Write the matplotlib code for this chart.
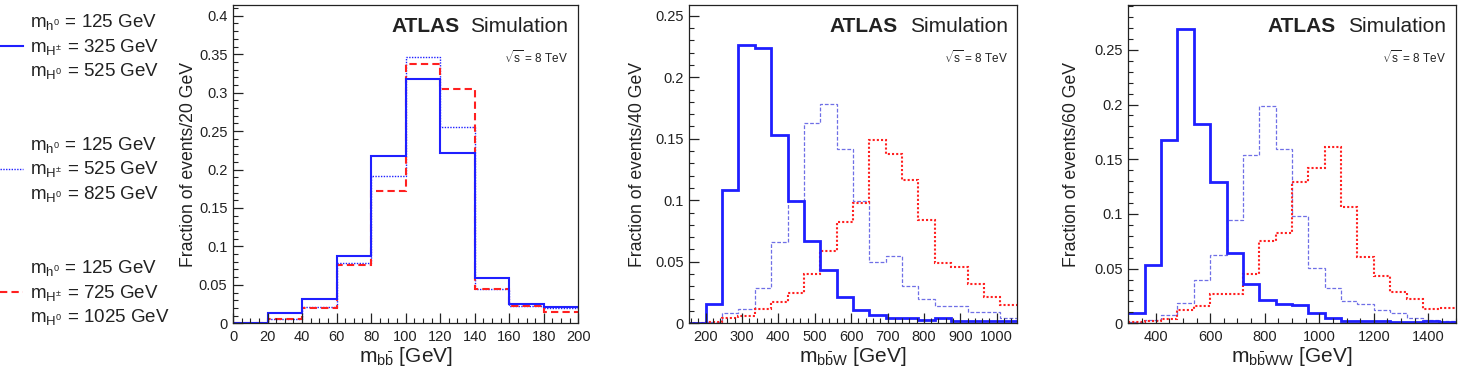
import matplotlib
matplotlib.use("Agg")
import matplotlib.pyplot as plt
from matplotlib.lines import Line2D
from matplotlib.ticker import MultipleLocator, FuncFormatter
import numpy as np

plt.rcParams['font.family'] = ['Liberation Sans', 'DejaVu Sans']
plt.rcParams['mathtext.fontset'] = 'custom'
plt.rcParams['mathtext.rm'] = 'Liberation Sans'
plt.rcParams['mathtext.it'] = 'Liberation Sans'
plt.rcParams['mathtext.bf'] = 'Liberation Sans:bold'
plt.rcParams['mathtext.sf'] = 'Liberation Sans'

# ---------------- data ----------------
# panel 1: m_bb, 20 GeV bins from 0 to 200
edges_bb = np.arange(0, 201, 20)
bb_325 = [0.0, 0.013, 0.032, 0.088, 0.218, 0.318, 0.221, 0.059, 0.025, 0.021]
bb_525 = [0.0, 0.006, 0.021, 0.078, 0.191, 0.347, 0.255, 0.045, 0.023, 0.020]
bb_725 = [0.0, 0.006, 0.020, 0.076, 0.172, 0.337, 0.305, 0.045, 0.022, 0.015]

# panel 2: m_bbW, bins from 155 to 1055
edges_bbw = np.arange(155, 1056, 45)
bbw_325 = [0.0005, 0.016, 0.108, 0.226, 0.224, 0.153, 0.099, 0.067, 0.043, 0.021,
           0.011, 0.007, 0.0045, 0.004, 0.003, 0.004, 0.002, 0.002, 0.002, 0.002]
bbw_525 = [0.0, 0.001, 0.008, 0.012, 0.029, 0.066, 0.099, 0.1625, 0.178, 0.142,
           0.099, 0.050, 0.055, 0.030, 0.020, 0.014, 0.014, 0.009, 0.009, 0.004]
bbw_725 = [0.0, 0.001, 0.004, 0.006, 0.012, 0.0176, 0.0244, 0.040, 0.059, 0.082,
           0.098, 0.149, 0.138, 0.1165, 0.084, 0.049, 0.046, 0.032, 0.021, 0.015]

# panel 3: m_bbWW, 60 GeV bins from 300 to 1500
edges_bbww = np.arange(300, 1501, 60)
bbww_325 = [0.009, 0.053, 0.168, 0.269, 0.182, 0.129, 0.064, 0.036, 0.021, 0.018,
            0.017, 0.009, 0.0046, 0.002, 0.002, 0.002, 0.001, 0.001, 0.002, 0.001]
bbww_525 = [0.001, 0.003, 0.0076, 0.019, 0.040, 0.0625, 0.094, 0.154, 0.199, 0.159,
            0.098, 0.051, 0.032, 0.020, 0.018, 0.012, 0.009, 0.005, 0.003, 0.002]
bbww_725 = [0.001, 0.002, 0.004, 0.012, 0.016, 0.027, 0.027, 0.045, 0.0756, 0.083,
            0.129, 0.142, 0.161, 0.106, 0.061, 0.043, 0.029, 0.022, 0.013, 0.014]

legend_groups = [
    ["$m_{h^0}$ = 125 GeV", "$m_{H^{\\pm}}$ = 325 GeV", "$m_{H^0}$ = 525 GeV"],
    ["$m_{h^0}$ = 125 GeV", "$m_{H^{\\pm}}$ = 525 GeV", "$m_{H^0}$ = 825 GeV"],
    ["$m_{h^0}$ = 125 GeV", "$m_{H^{\\pm}}$ = 725 GeV", "$m_{H^0}$ = 1025 GeV"],
]

# ---------------- figure ----------------
W, H = 1458, 374
fig = plt.figure(figsize=(W / 100, H / 100), dpi=100)

BLUE = '#1f1fff'
LBLUE = '#6f6fe6'
RED = '#ff2020'

def px_axes(l, r, t, b):
    return fig.add_axes([l / W, 1 - b / H, (r - l) / W, (b - t) / H])

fmt = FuncFormatter(lambda v, p: f"{v:g}")

def style(ax, xlim, ylim, xmaj, xmin, xlabel, ylabel, ylx, atlas_l, sim_r):
    ax.set_xlim(*xlim)
    ax.set_ylim(*ylim)
    ax.xaxis.set_major_locator(MultipleLocator(xmaj))
    ax.xaxis.set_minor_locator(MultipleLocator(xmin))
    ax.yaxis.set_major_locator(MultipleLocator(0.05))
    ax.yaxis.set_minor_locator(MultipleLocator(0.01))
    ax.yaxis.set_major_formatter(fmt)
    ax.xaxis.set_major_formatter(fmt)
    ax.tick_params(which='both', direction='in', top=False, right=False,
                   labelsize=10.5, colors='#222222')
    ax.tick_params(which='major', length=7, width=0.9)
    ax.tick_params(which='minor', length=3.5, width=0.8)
    ax.tick_params(axis='x', pad=5)
    ax.tick_params(axis='y', pad=4)
    for s in ax.spines.values():
        s.set_linewidth(0.9)
        s.set_color('#222222')
    ax.set_xlabel(xlabel, fontsize=15, va='baseline', color='#222222')
    ax.xaxis.set_label_coords(0.5, -0.122)
    ax.set_ylabel(ylabel, fontsize=12.7, va='center', color='#222222')
    ax.yaxis.set_label_coords(ylx, 0.5)
    ax.text(atlas_l, 0.916, 'ATLAS', transform=ax.transAxes, fontsize=15,
            fontweight='bold', ha='left', va='baseline', color='#222222')
    ax.text(sim_r, 0.916, 'Simulation', transform=ax.transAxes, fontsize=15,
            ha='right', va='baseline', color='#222222')
    ax.text(sim_r, 0.835, '$\\sqrt{s}$ = 8 TeV', transform=ax.transAxes,
            fontsize=8.5, ha='right', va='center', color='#222222')

# panel 1
ax1 = px_axes(233, 578.3, 5, 323.3)
ax1.stairs(bb_525, edges_bb, baseline=None, color=BLUE, lw=1.0, ls=(0, (1, 1)))
ax1.stairs(bb_725, edges_bb, baseline=None, color=RED, lw=1.5, ls=(0, (3.5, 2)))
ax1.stairs(bb_325, edges_bb, baseline=None, color=BLUE, lw=1.5)
style(ax1, (0, 200), (0, 0.414), 20, 5, '$m_{b\\bar{b}}$ [GeV]',
      'Fraction of events/20 GeV', -0.130, 0.4576, 0.970)

# panel 2
ax2 = px_axes(689.3, 1016.7, 5, 323.3)
ax2.stairs(bbw_525, edges_bbw, baseline=None, color=LBLUE, lw=0.9, ls=(0, (3, 1.5)))
ax2.stairs(bbw_725, edges_bbw, baseline=None, color=RED, lw=1.5, ls=(0, (1, 1)))
ax2.stairs(bbw_325, edges_bbw, baseline=None, color=BLUE, lw=2.0)
style(ax2, (155, 1055), (0, 0.2587), 100, 20, '$m_{b\\bar{b}W}$ [GeV]',
      'Fraction of events/40 GeV', -0.157, 0.4276, 0.9725)

# panel 3
ax3 = px_axes(1128.3, 1455.7, 5, 323.3)
ax3.stairs(bbww_525, edges_bbww, baseline=None, color=LBLUE, lw=0.9, ls=(0, (3, 1.5)))
ax3.stairs(bbww_725, edges_bbww, baseline=None, color=RED, lw=1.5, ls=(0, (1, 1)))
ax3.stairs(bbww_325, edges_bbww, baseline=None, color=BLUE, lw=2.0)
style(ax3, (300, 1500), (0, 0.291), 200, 50, '$m_{b\\bar{b}WW}$ [GeV]',
      'Fraction of events/60 GeV', -0.173, 0.4246, 0.9695)

# legend (drawn in figure space)
group_base = [27.3, 150.0, 273.3]
line_gap = 24.4
styles = [dict(color=BLUE, lw=1.5, ls='-'),
          dict(color=BLUE, lw=1.0, ls=(0, (1, 1))),
          dict(color=RED, lw=1.5, ls=(0, (3.5, 2)))]
for g, (labels, st) in enumerate(zip(legend_groups, styles)):
    y0 = group_base[g]
    for i, lab in enumerate(labels):
        fig.text(30.5 / W, 1 - (y0 + i * line_gap) / H, lab, fontsize=13.5,
                 ha='left', va='baseline', color='#222222')
    ymid = y0 + line_gap - 5.5
    fig.add_artist(Line2D([0, 23 / W], [1 - ymid / H, 1 - ymid / H],
                          transform=fig.transFigure, **st))

fig.savefig('out.png', dpi=100)
